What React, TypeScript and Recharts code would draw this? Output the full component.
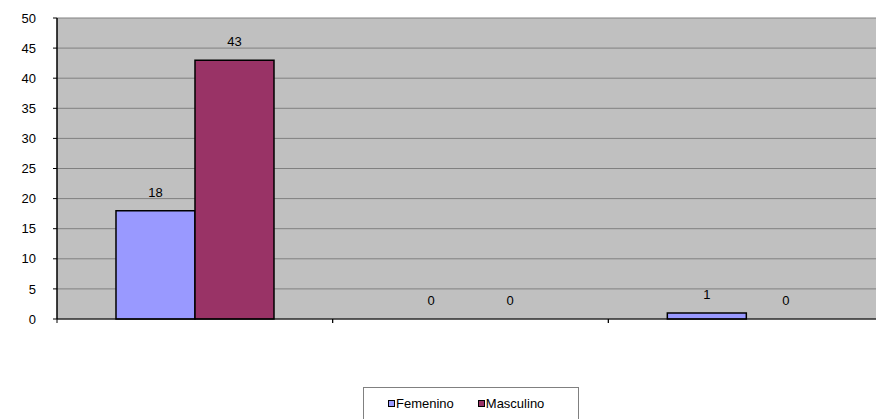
import { BarChart, Bar, XAxis, YAxis, CartesianGrid, LabelList, Rectangle } from 'recharts'

const categories = ['A', 'B', 'C']
const femenino = [18, 0, 1]
const masculino = [43, 0, 0]
const yTicks = [0, 5, 10, 15, 20, 25, 30, 35, 40, 45, 50]

const seriesColors = { femenino: '#9999FF', masculino: '#993366' }

const data = categories.map((c, i) => ({ name: c, femenino: femenino[i], masculino: masculino[i] }))

const CHART_W = 884
const PLOT_LEFT = 57
const BAND = (CHART_W - PLOT_LEFT) / categories.length
const FONT = 'Arial, "Liberation Sans", sans-serif'

// ticks sit between categories, not under the middle of each one
const BoundaryTick = (props: any) => {
  const { x, y } = props
  return (
    <g>
      <line x1={x - BAND / 2} x2={x - BAND / 2} y1={y - 8} y2={y - 4} stroke="#000" />
      <line x1={x + BAND / 2} x2={x + BAND / 2} y1={y - 8} y2={y - 4} stroke="#000" />
    </g>
  )
}

// zero values keep their label but draw no box
const BarShape = (props: any) => {
  if (props.height < 0.5) return null
  return <Rectangle {...props} />
}

const LegendBox = () => (
  <div
    style={{
      position: 'absolute',
      left: 363,
      top: 387,
      width: 216,
      height: 40,
      boxSizing: 'border-box',
      border: '1px solid #808080',
      background: '#fff',
      fontFamily: FONT,
      fontSize: 13,
      color: '#000',
      display: 'flex',
      alignItems: 'flex-start',
      paddingTop: 8,
      paddingLeft: 24,
    }}
  >
    {[
      { label: 'Femenino', color: seriesColors.femenino },
      { label: 'Masculino', color: seriesColors.masculino },
    ].map((it, i) => (
      <span key={it.label} style={{ display: 'flex', alignItems: 'center', marginRight: i === 0 ? 24 : 0 }}>
        <span
          style={{
            display: 'inline-block',
            width: 5,
            height: 5,
            border: '1.5px solid #000',
            background: it.color,
            marginRight: 1,
          }}
        />
        {it.label}
      </span>
    ))}
  </div>
)

export default function App() {
  return (
    <div style={{ position: 'absolute', left: 0, top: 0, width: 876, height: 419, overflow: 'hidden', background: '#fff' }}>
      <BarChart
        width={CHART_W}
        height={419}
        data={data}
        margin={{ top: 18, right: 0, left: 0, bottom: 90 }}
        barCategoryGap="21.4%"
        barGap={0}
      >
        <CartesianGrid vertical={false} stroke="#808080" fill="#C0C0C0" fillOpacity={1} />
        <XAxis
          dataKey="name"
          height={10}
          axisLine={{ stroke: '#000', strokeWidth: 1 }}
          tickLine={false}
          tick={<BoundaryTick />}
          interval={0}
        />
        <YAxis
          width={PLOT_LEFT}
          domain={[0, 50]}
          ticks={yTicks}
          interval={0}
          axisLine={{ stroke: '#000', strokeWidth: 1.5 }}
          tickLine={{ stroke: '#000' }}
          tickSize={4}
          tickMargin={17}
          tick={{ fill: '#000', fontSize: 13, fontFamily: FONT }}
        />
        <Bar
          dataKey="femenino"
          name="Femenino"
          fill={seriesColors.femenino}
          stroke="#000"
          strokeWidth={1.5}
          minPointSize={0.01}
          shape={<BarShape />}
          isAnimationActive={false}
        >
          <LabelList dataKey="femenino" position="top" offset={14} fill="#000" fontSize={13} fontFamily={FONT} />
        </Bar>
        <Bar
          dataKey="masculino"
          name="Masculino"
          fill={seriesColors.masculino}
          stroke="#000"
          strokeWidth={1.5}
          minPointSize={0.01}
          shape={<BarShape />}
          isAnimationActive={false}
        >
          <LabelList dataKey="masculino" position="top" offset={14} fill="#000" fontSize={13} fontFamily={FONT} />
        </Bar>
      </BarChart>
      <LegendBox />
    </div>
  )
}
